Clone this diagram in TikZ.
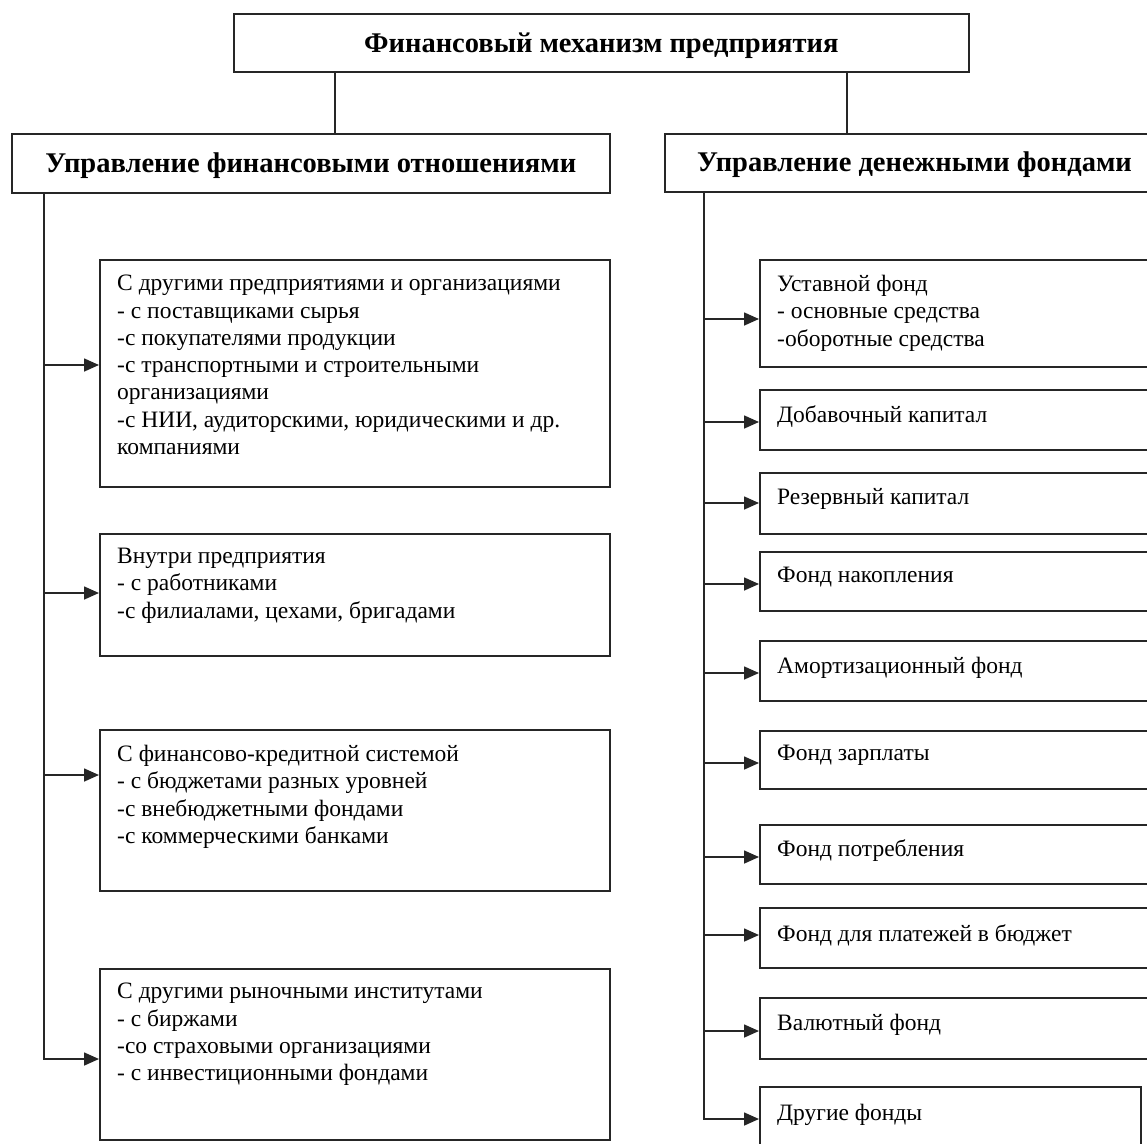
\documentclass[tikz,border=0pt]{standalone}
\usepackage{fontspec}
\setmainfont{Liberation Serif}
\usetikzlibrary{arrows.meta}
\begin{document}
\begin{tikzpicture}[x=1pt,y=-1pt,
  boxline/.style={draw=black!85, line width=1.7pt, rectangle, inner sep=0pt, anchor=north west},
  body/.style={anchor=north west, inner sep=0pt, align=left, font=\fontsize{23.5}{27.3}\selectfont},
  title/.style={inner sep=0pt, yshift=-2.5pt, font=\fontsize{28.5}{32}\selectfont\bfseries},
  conn/.style={draw=black!85, line width=1.6pt},
  arr/.style={draw=black!85, line width=1.6pt, -{Triangle[length=15pt,width=13pt]}},
]
\useasboundingbox (0,0) rectangle (1147,1143);
\clip (0,0) rectangle (1147,1143);
% top level
\node[boxline, minimum width=735pt, minimum height=58pt] (top) at (233,13) {};
\node[title] (toptext) at (top.center) {Финансовый механизм предприятия};
% second level
\node[boxline, minimum width=598pt, minimum height=59pt] (L) at (11,133) {};
\node[title] (Ltext) at (L.center) {Управление финансовыми отношениями};
\node[boxline, minimum width=496pt, minimum height=58pt] (R) at (664,133) {};
\node[title, anchor=west] (Rtext) at (697,162) {Управление денежными фондами};
\coordinate (tlx) at (335,0);
\coordinate (trx) at (847,0);
\draw[conn] (top.south -| tlx) -- (L.north -| tlx);
\draw[conn] (top.south -| trx) -- (R.north -| trx);
% left boxes
\node[boxline, minimum width=510pt, minimum height=227pt] (L1) at (99,259) {};
\node[boxline, minimum width=510pt, minimum height=122pt] (L2) at (99,533) {};
\node[boxline, minimum width=510pt, minimum height=161pt] (L3) at (99,729) {};
\node[boxline, minimum width=510pt, minimum height=171pt] (L4) at (99,968) {};
\node[body] (L1t) at (117,275) {С другими предприятиями и организациями\\- с поставщиками сырья\\-с покупателями продукции\\-с транспортными и строительными\\организациями\\-с НИИ, аудиторскими, юридическими и др.\\компаниями};
\node[body] (L2t) at (117,548) {Внутри предприятия\\- с работниками\\-с филиалами, цехами, бригадами};
\node[body] (L3t) at (117,745) {С финансово-кредитной системой\\- с бюджетами разных уровней\\-с внебюджетными фондами\\-с коммерческими банками};
\node[body] (L4t) at (117,983) {С другими рыночными институтами\\- с биржами\\-со страховыми организациями\\- с инвестиционными фондами};
% right boxes
\node[boxline, minimum width=401pt, minimum height=107pt] (R1) at (759,259) {};
\node[boxline, minimum width=401pt, minimum height=60pt] (R2) at (759,389) {};
\node[boxline, minimum width=401pt, minimum height=61pt] (R3) at (759,472) {};
\node[boxline, minimum width=401pt, minimum height=59pt] (R4) at (759,551) {};
\node[boxline, minimum width=401pt, minimum height=60pt] (R5) at (759,640) {};
\node[boxline, minimum width=401pt, minimum height=58pt] (R6) at (759,730) {};
\node[boxline, minimum width=401pt, minimum height=59pt] (R7) at (759,824) {};
\node[boxline, minimum width=401pt, minimum height=60pt] (R8) at (759,907) {};
\node[boxline, minimum width=401pt, minimum height=61pt] (R9) at (759,997) {};
\node[boxline, minimum width=381pt, minimum height=70pt] (R10) at (759,1086) {};
\node[body] (R1t) at (777,275) {Уставной фонд\\- основные средства\\-оборотные средства};
\node[body] (R2t) at (777,405) {Добавочный капитал};
\node[body] (R3t) at (777,488) {Резервный капитал};
\node[body] (R4t) at (777,567) {Фонд накопления};
\node[body] (R5t) at (777,657) {Амортизационный фонд};
\node[body] (R6t) at (777,745) {Фонд зарплаты};
\node[body] (R7t) at (777,839) {Фонд потребления};
\node[body] (R8t) at (777,924) {Фонд для платежей в бюджет};
\node[body] (R9t) at (777,1014) {Валютный фонд};
\node[body] (R10t) at (777,1104) {Другие фонды};
% left trunk and arrows
\coordinate (ltx) at (44,0);
\coordinate (la1) at (0,365);
\coordinate (la2) at (0,593);
\coordinate (la3) at (0,775);
\coordinate (la4) at (0,1059);
\draw[arr] (L.south -| ltx) -- (ltx |- la4) -- (L4.west |- la4);
\draw[arr] (ltx |- la1) -- (L1.west |- la1);
\draw[arr] (ltx |- la2) -- (L2.west |- la2);
\draw[arr] (ltx |- la3) -- (L3.west |- la3);
% right trunk and arrows
\coordinate (rtx) at (704,0);
\coordinate (ra1) at (0,319);
\coordinate (ra2) at (0,422);
\coordinate (ra3) at (0,503);
\coordinate (ra4) at (0,584);
\coordinate (ra5) at (0,673);
\coordinate (ra6) at (0,763);
\coordinate (ra7) at (0,857);
\coordinate (ra8) at (0,935);
\coordinate (ra9) at (0,1031);
\coordinate (ra10) at (0,1119);
\draw[arr] (R.south -| rtx) -- (rtx |- ra10) -- (R10.west |- ra10);
\foreach \i in {1,...,9}{
  \draw[arr] (rtx |- ra\i) -- (R\i.west |- ra\i);
}
\end{tikzpicture}
\end{document}
